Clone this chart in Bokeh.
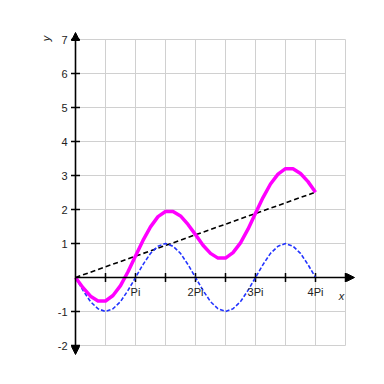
import math
from bokeh.plotting import figure
from bokeh.models import Range1d, Arrow, NormalHead
from bokeh.core.properties import value
from bokeh.embed import file_html
from bokeh.resources import INLINE

PI = math.pi

x_steps = list(range(33))  # multiples of Pi/8
blue_y = [0, -0.38, -0.71, -0.92, -1, -0.92, -0.71, -0.38, 0,
          0.38, 0.71, 0.92, 1, 0.92, 0.71, 0.38, 0,
          -0.38, -0.71, -0.92, -1, -0.92, -0.71, -0.38, 0,
          0.38, 0.71, 0.92, 1, 0.92, 0.71, 0.38, 0]
magenta_y = [0, -0.30, -0.55, -0.69, -0.69, -0.53, -0.24, 0.17, 0.63,
             1.09, 1.49, 1.79, 1.94, 1.94, 1.81, 1.56, 1.26,
             0.95, 0.71, 0.57, 0.57, 0.73, 1.02, 1.42, 1.89,
             2.35, 2.75, 3.04, 3.20, 3.20, 3.06, 2.82, 2.51]
line_x_pi = [0, 4]
line_y = [0, 2.51]

x_tick_halfpi = [0, 1, 2, 3, 4, 5, 6, 7, 8, 9]   # multiples of Pi/2
x_label_pi = [1, 2, 3, 4]
x_labels = ["Pi", "2Pi", "3Pi", "4Pi"]
y_ticks = [-2, -1, 0, 1, 2, 3, 4, 5, 6, 7]
y_label_vals = [-2, -1, 1, 2, 3, 4, 5, 6, 7]
y_labels = [str(v) for v in y_label_vals]

# ---- scales: pixel sizes in data units ----
PX = PI / 60.0   # x data per pixel
PY = 1.0 / 34.0  # y data per pixel

x = [k * PI / 8 for k in x_steps]
xt = [k * PI / 2 for k in x_tick_halfpi]
x_min, x_max = min(xt), max(xt)
y_min, y_max = min(y_ticks), max(y_ticks)

p = figure(width=384, height=384, output_backend="svg", toolbar_location=None,
           x_axis_type=None, y_axis_type=None, min_border=0,
           x_range=Range1d(-75 * PX, 309 * PX), y_range=Range1d(-107 * PY, 277 * PY),
           outline_line_color=None, background_fill_color="white")
p.grid.visible = False

# grid
p.segment(x0=xt, y0=[y_min] * len(xt), x1=xt, y1=[y_max] * len(xt),
          line_color="#d0d0d0", line_width=1)
p.segment(x0=[x_min] * len(y_ticks), y0=y_ticks, x1=[x_max] * len(y_ticks), y1=y_ticks,
          line_color="#d0d0d0", line_width=1)

# axes with arrows
p.add_layout(Arrow(end=NormalHead(size=8, fill_color="black", line_color="black", line_width=1),
                   x_start=0, y_start=0, x_end=x_max + 9 * PX, y_end=0,
                   line_color="black", line_width=1.6))
p.add_layout(Arrow(start=NormalHead(size=8, fill_color="black", line_color="black", line_width=1),
                   end=NormalHead(size=8, fill_color="black", line_color="black", line_width=1),
                   x_start=0, y_start=y_min - 9 * PY, x_end=0, y_end=y_max + 7 * PY,
                   line_color="black", line_width=1.6))

# ticks
p.scatter(x=xt[1:], y=[0] * (len(xt) - 1), marker="dash", angle=PI / 2, size=9,
          line_color="black", line_width=1.5)
p.scatter(x=[0] * len(y_label_vals), y=y_label_vals, marker="dash", size=9,
          line_color="black", line_width=1.5)

# curves
p.line(x=[k * PI for k in line_x_pi], y=line_y, line_color="black", line_width=1.6,
       line_dash="5 3")
p.line(x=x, y=blue_y, line_color="#2233ff", line_width=1.6, line_dash="4 2",
       line_join="round")
p.line(x=x, y=magenta_y, line_color="#ff00ff", line_width=3.5, line_join="round")

# tick labels
p.text(x=[k * PI for k in x_label_pi], y=[-14.5 * PY] * len(x_label_pi), text=x_labels,
       text_font=value("Liberation Sans"), text_font_size="11px", text_color="#222222",
       text_align="center", text_baseline="middle")
p.text(x=[-8 * PX] * len(y_label_vals), y=y_label_vals, text=y_labels,
       text_font=value("Liberation Sans"), text_font_size="11px", text_color="#222222",
       text_align="right", text_baseline="middle")

# axis titles
p.text(x=[266 * PX], y=[-18 * PY], text=["x"], text_font=value("Liberation Sans"),
       text_font_size="11px", text_font_style="italic", text_color="#222222",
       text_align="center", text_baseline="middle")
p.text(x=[-30 * PX], y=[y_max + 1 * PY], text=["y"], text_font=value("Liberation Sans"),
       text_font_size="11px", text_font_style="italic", text_color="#222222",
       text_align="center", text_baseline="middle", angle=PI / 2)

open("out.html", "w").write(file_html(p, INLINE))
